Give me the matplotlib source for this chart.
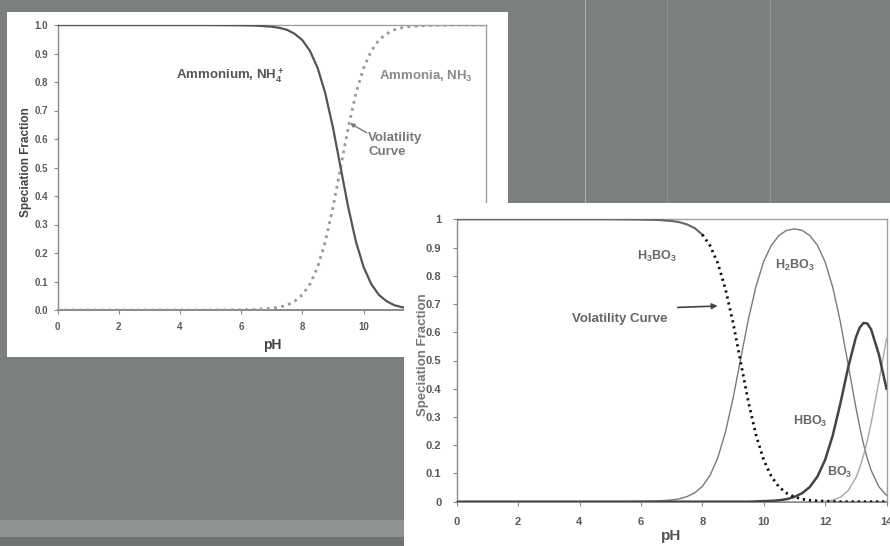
import matplotlib
matplotlib.use("Agg")
import matplotlib.pyplot as plt
from matplotlib.patches import Rectangle

plt.rcParams['font.family'] = ['Liberation Sans', 'DejaVu Sans']

# --- ammonia / ammonium speciation (top-left chart) ---
ph_nh = [0, 1, 2, 3, 4, 5, 6, 6.5, 7, 7.25, 7.5, 7.75, 8, 8.25, 8.5, 8.75,
         9, 9.25, 9.5, 9.75, 10, 10.25, 10.5, 10.75, 11, 11.25, 11.5, 12, 13, 14]
ammonium = [1.0, 1.0, 1.0, 1.0, 1.0, 1.0, 0.999, 0.998, 0.994, 0.990, 0.983, 0.969,
            0.947, 0.909, 0.849, 0.760, 0.640, 0.500, 0.360, 0.240, 0.151, 0.091,
            0.053, 0.031, 0.017, 0.010, 0.006, 0.002, 0.0, 0.0]
ammonia = [0.0, 0.0, 0.0, 0.0, 0.0, 0.0, 0.001, 0.002, 0.006, 0.010, 0.017, 0.031,
           0.053, 0.091, 0.151, 0.240, 0.360, 0.500, 0.640, 0.760, 0.849, 0.909,
           0.947, 0.969, 0.983, 0.990, 0.994, 0.998, 1.0, 1.0]

# --- boric acid speciation (bottom-right chart) ---
ph_b = [0, 1, 2, 3, 4, 5, 6, 6.5, 7, 7.25, 7.5, 7.75, 8, 8.25, 8.5, 8.75,
        9, 9.25, 9.5, 9.75, 10, 10.25, 10.5, 10.75, 11, 11.25, 11.5, 11.75,
        12, 12.25, 12.5, 12.75, 13, 13.125, 13.25, 13.375, 13.5, 13.75, 14]
h3bo3 = [1.0, 1.0, 1.0, 1.0, 1.0, 1.0, 0.999, 0.998, 0.994, 0.990, 0.982, 0.969,
         0.946, 0.907, 0.846, 0.755, 0.635, 0.494, 0.354, 0.236, 0.148, 0.089,
         0.052, 0.030, 0.017, 0.009, 0.005, 0.003, 0.002, 0.001, 0.0, 0.0,
         0.0, 0.0, 0.0, 0.0, 0.0, 0.0, 0.0]
h2bo3 = [0.0, 0.0, 0.0, 0.0, 0.0, 0.0, 0.001, 0.002, 0.006, 0.010, 0.018, 0.031,
         0.054, 0.093, 0.154, 0.245, 0.365, 0.506, 0.645, 0.763, 0.851, 0.908,
         0.943, 0.961, 0.966, 0.961, 0.943, 0.908, 0.849, 0.759, 0.635, 0.486,
         0.335, 0.266, 0.205, 0.153, 0.111, 0.053, 0.023]
hbo3 = [0.0, 0.0, 0.0, 0.0, 0.0, 0.0, 0.0, 0.0, 0.0, 0.0, 0.0, 0.0,
        0.0, 0.0, 0.0, 0.0, 0.0, 0.0, 0.0, 0.001, 0.002, 0.003, 0.005, 0.009,
        0.017, 0.030, 0.052, 0.089, 0.148, 0.235, 0.349, 0.475,
        0.581, 0.616, 0.633, 0.631, 0.610, 0.522, 0.400]
bo3 = [0.0, 0.0, 0.0, 0.0, 0.0, 0.0, 0.0, 0.0, 0.0, 0.0, 0.0, 0.0,
       0.0, 0.0, 0.0, 0.0, 0.0, 0.0, 0.0, 0.0, 0.0, 0.0, 0.0, 0.0,
       0.0, 0.0, 0.0, 0.001, 0.002, 0.006, 0.016, 0.039,
       0.084, 0.119, 0.163, 0.216, 0.279, 0.424, 0.577]

x_ticks = [0, 2, 4, 6, 8, 10, 12, 14]
y_ticks = [0.0, 0.1, 0.2, 0.3, 0.4, 0.5, 0.6, 0.7, 0.8, 0.9, 1.0]
y_labels_1 = ['%.1f' % v for v in y_ticks]
y_labels_2 = ['0', '0.1', '0.2', '0.3', '0.4', '0.5', '0.6', '0.7', '0.8', '0.9', '1']

fig = plt.figure(figsize=(8.9, 5.46), dpi=100)
fig.patch.set_facecolor('#7b7f7f')

# background details
fig.add_artist(Rectangle((0, 1 - 537 / 546), 404 / 890, 17 / 546, transform=fig.transFigure,
                         facecolor='#8f9393', edgecolor='none', zorder=0.5))
fig.add_artist(Rectangle((0, 0), 404 / 890, 9 / 546, transform=fig.transFigure,
                         facecolor='#6f7373', edgecolor='none', zorder=0.5))
for xp, c in [(585, '#9fb4b0'), (667, '#86958e'), (770, '#8a9994')]:
    fig.add_artist(plt.Line2D([xp / 890, xp / 890], [1 - 203 / 546, 1], transform=fig.transFigure,
                              color=c, lw=0.8, zorder=0.6))

# white panels
fig.add_artist(Rectangle((7 / 890, 1 - 357 / 546), 501 / 890, 345 / 546, transform=fig.transFigure,
                         facecolor='white', edgecolor='none', zorder=1))
fig.add_artist(Rectangle((404 / 890, 0), 486 / 890, 343 / 546, transform=fig.transFigure,
                         facecolor='white', edgecolor='none', zorder=3))

ax1 = fig.add_axes([57.5 / 890, 1 - 310 / 546, 428.5 / 890, 285 / 546], zorder=2)
ax2 = fig.add_axes([456.7 / 890, 1 - 501.7 / 546, 429.8 / 890, 282.4 / 546], zorder=4)

for ax, ylabs, fs in [(ax1, y_labels_1, 7), (ax2, y_labels_2, 8)]:
    ax.set_facecolor('none')
    ax.set_xlim(0, 14)
    ax.set_ylim(0, 1)
    ax.set_xticks(x_ticks)
    ax.set_yticks(y_ticks)
    ax.set_yticklabels(ylabs)
    for s in ax.spines.values():
        s.set_color('#a0a0a0')
        s.set_linewidth(1.0)
    ax.spines['left'].set_color('#8a8a8a')
    ax.spines['bottom'].set_color('#8a8a8a')
    ax.spines['bottom'].set_linewidth(1.4)
    ax.tick_params(direction='out', length=3, width=0.8, color='#8a8a8a',
                   labelsize=fs, labelcolor='#5a5a5a', top=False, right=False)
    for lab in ax.get_xticklabels() + ax.get_yticklabels():
        lab.set_fontweight('bold')

ax1.tick_params(axis='x', pad=6)
ax1.tick_params(axis='y', pad=4)
ax2.tick_params(axis='x', pad=8)
ax2.tick_params(axis='y', pad=8)

# chart 1
ax1.plot(ph_nh, ammonia, color='#9a9a9a', lw=2.0, linestyle=(0, (1.0, 1.6)), zorder=3)
ax1.plot(ph_nh, ammonium, color='#555555', lw=1.6, zorder=4)
ax1.text(5.64, 0.821, r'Ammonium, $\mathregular{NH_4^+}$', ha='center', va='center',
         fontsize=9.5, fontweight='bold', color='#555555')
ax1.text(12.04, 0.821, r'Ammonia, $\mathregular{NH_3}$', ha='center', va='center',
         fontsize=9.5, fontweight='bold', color='#8a8a8a')
ax1.text(10.15, 0.578, 'Volatility\nCurve', ha='left', va='center', linespacing=1.25,
         fontsize=9.5, fontweight='bold', color='#7a7a7a')
ax1.annotate('', xy=(9.56, 0.655), xytext=(10.1, 0.622),
             arrowprops=dict(arrowstyle='-|>', color='#777777', lw=1.0,
                             mutation_scale=6, shrinkA=0, shrinkB=0))
ax1.set_ylabel('Speciation Fraction', fontsize=8.5, fontweight='bold', color='#444444')
ax1.yaxis.set_label_coords(-0.059, 0.52)
ax1.set_xlabel('pH', fontsize=10, fontweight='bold', color='#444444')
ax1.xaxis.set_label_coords(0.5, -0.098)

# chart 2
top_part = [i for i, p in enumerate(ph_b) if p <= 8]
dot_part = [i for i, p in enumerate(ph_b) if p >= 8]
ax2.plot([ph_b[i] for i in top_part], [h3bo3[i] for i in top_part],
         color='#666666', lw=1.5, zorder=5)
ax2.plot([ph_b[i] for i in dot_part], [h3bo3[i] for i in dot_part],
         color='#111111', lw=2.0, linestyle=(0, (0.8, 1.4)), zorder=5)
ax2.plot(ph_b, h2bo3, color='#7a7a7a', lw=1.0, zorder=3)
ax2.plot(ph_b, hbo3, color='#444444', lw=1.8, zorder=4)
ax2.plot(ph_b, bo3, color='#a8a8a8', lw=1.0, zorder=3)

lab_kw = dict(ha='center', va='center', fontsize=9, fontweight='bold', color='#666666')
ax2.text(6.52, 0.867, r'$\mathregular{H_3BO_3}$', **lab_kw)
ax2.text(11.0, 0.837, r'$\mathregular{H_2BO_3}$', **lab_kw)
ax2.text(11.53, 0.283, r'$\mathregular{HBO_3}$', **lab_kw)
ax2.text(12.49, 0.103, r'$\mathregular{BO_3}$', **lab_kw)
ax2.text(5.32, 0.647, 'Volatility Curve', ha='center', va='center', fontsize=9.5,
         fontweight='bold', color='#666666')
ax2.annotate('', xy=(8.5, 0.693), xytext=(7.2, 0.688),
             arrowprops=dict(arrowstyle='-|>', color='#444444', lw=1.2,
                             mutation_scale=8, shrinkA=0, shrinkB=0))
ax2.set_ylabel('Speciation Fraction', fontsize=9.5, fontweight='bold', color='#777777')
ax2.yaxis.set_label_coords(-0.064, 0.52)
ax2.set_xlabel('pH', fontsize=11, fontweight='bold', color='#555555')
ax2.xaxis.set_label_coords(0.5, -0.097)

fig.savefig('out.png', dpi=100, facecolor=fig.get_facecolor())
